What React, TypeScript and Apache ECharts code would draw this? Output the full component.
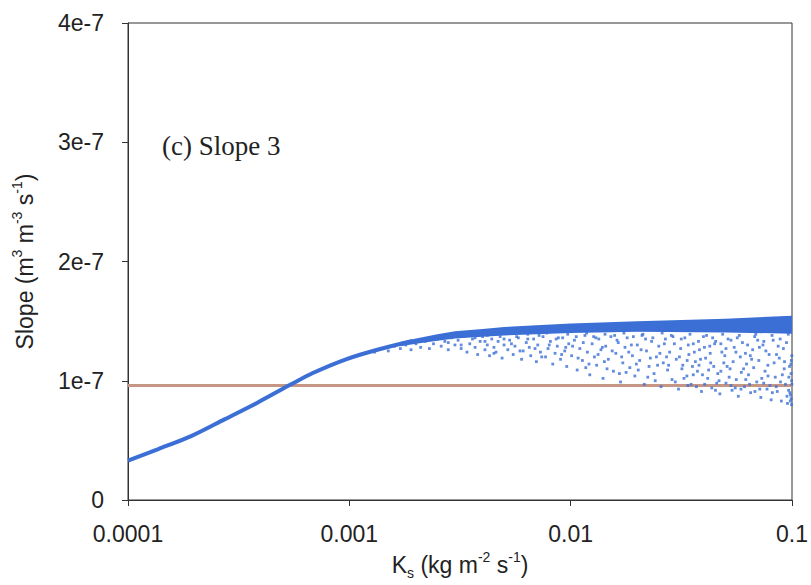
import React, { useEffect, useRef } from "react";
import * as echarts from "echarts";

// Y values are in units of 1e-7 m3 m-3 s-1
const yTickLabels = ["0", "1e-7", "2e-7", "3e-7", "4e-7"];
const xTickLabels = ["0.0001", "0.001", "0.01", "0.1"];

// single-valued curve at low Ks
const curveKs = [0.0001, 0.000137, 0.000194, 0.000274, 0.000386, 0.000546, 0.000684, 0.000966, 0.001365, 0.00193];
const curveSlope = [0.33, 0.427, 0.538, 0.678, 0.818, 0.97, 1.065, 1.18, 1.264, 1.333];

// dense upper band of the scatter
const bandKs = [0.0017, 0.002, 0.0025, 0.003, 0.004, 0.005, 0.007, 0.01, 0.02, 0.05, 0.1];
const bandUpper = [1.325, 1.355, 1.39, 1.415, 1.435, 1.45, 1.465, 1.48, 1.5, 1.52, 1.545];
const bandLower = [1.29, 1.31, 1.335, 1.355, 1.37, 1.38, 1.39, 1.4, 1.41, 1.405, 1.395];

// reference level (horizontal line)
const refLevel = 0.96;

// scattered points below the band
const scatterPoints: [number, number][] = [
  [0.0013, 1.24], [0.0014, 1.27], [0.0015, 1.25], [0.0016, 1.29], [0.0017, 1.27], [0.0018, 1.3],
  [0.0019, 1.26], [0.002, 1.31], [0.0021, 1.28], [0.0022, 1.33], [0.0023, 1.27], [0.0024, 1.31],
  [0.0025, 1.35], [0.0026, 1.29], [0.0027, 1.33], [0.0028, 1.26], [0.0029, 1.36], [0.003, 1.3],
  [0.0031, 1.34], [0.0032, 1.27], [0.0033, 1.37], [0.0034, 1.24], [0.0035, 1.31], [0.0036, 1.35],
  [0.0037, 1.28], [0.0038, 1.22], [0.0039, 1.33], [0.004, 1.37], [0.0041, 1.26], [0.0042, 1.3],
  [0.0043, 1.21], [0.0044, 1.35], [0.0045, 1.28], [0.0046, 1.24], [0.0047, 1.33], [0.0048, 1.37],
  [0.0049, 1.19], [0.005, 1.3], [0.0052, 1.26], [0.0053, 1.34], [0.0055, 1.22], [0.0056, 1.29],
  [0.0058, 1.36], [0.006, 1.18], [0.0061, 1.25], [0.0063, 1.32], [0.0065, 1.28], [0.0066, 1.21],
  [0.0068, 1.35], [0.007, 1.16], [0.0071, 1.3], [0.0073, 1.24], [0.0075, 1.37], [0.0077, 1.2],
  [0.0079, 1.27], [0.0081, 1.33], [0.0083, 1.14], [0.0085, 1.23], [0.0087, 1.29], [0.009, 1.18],
  [0.0092, 1.36], [0.0094, 1.25], [0.0096, 1.12], [0.0098, 1.31],
  [0.0101, 1.21], [0.0104, 1.34], [0.0107, 1.09], [0.011, 1.27], [0.0113, 1.17], [0.0116, 1.38],
  [0.0119, 1.24], [0.0122, 1.05], [0.0125, 1.31], [0.0128, 1.2], [0.0131, 1.13], [0.0134, 1.35],
  [0.0137, 1.26], [0.014, 1.02], [0.0144, 1.29], [0.0148, 1.18], [0.0152, 1.37], [0.0156, 1.08],
  [0.016, 1.23], [0.0164, 1.32], [0.0168, 0.99], [0.0172, 1.15], [0.0176, 1.28], [0.018, 1.36],
  [0.0185, 1.11], [0.019, 1.21], [0.0195, 1.04], [0.02, 1.3], [0.0205, 1.17], [0.021, 1.38],
  [0.0215, 0.97], [0.022, 1.25], [0.0226, 1.12], [0.0232, 1.33], [0.0238, 1.06], [0.0244, 1.2],
  [0.025, 1.29], [0.0256, 0.95], [0.0262, 1.15], [0.0268, 1.35], [0.0274, 1.09], [0.028, 1.24],
  [0.0287, 1.01], [0.0294, 1.31], [0.03, 1.18],
  [0.0102, 1.29], [0.0108, 1.19], [0.0114, 1.32], [0.0121, 1.14], [0.0127, 1.37], [0.0133, 1.22],
  [0.0139, 1.28], [0.0146, 1.1], [0.0154, 1.25], [0.0162, 1.34], [0.017, 1.2], [0.0178, 1.07],
  [0.0188, 1.3], [0.0198, 1.14], [0.0208, 1.26], [0.0218, 1.35], [0.0229, 1.19], [0.0241, 1.0],
  [0.0253, 1.23], [0.0265, 1.31], [0.0277, 1.13], [0.029, 1.37],
  [0.0307, 0.93], [0.0314, 1.27], [0.0321, 1.13], [0.0328, 1.36], [0.0335, 1.04], [0.0342, 1.22],
  [0.035, 0.97], [0.0358, 1.31], [0.0366, 1.16], [0.0374, 1.08], [0.0382, 1.26], [0.039, 0.91],
  [0.0398, 1.37], [0.0407, 1.19], [0.0416, 1.02], [0.0425, 1.29], [0.0434, 0.94], [0.0443, 1.12],
  [0.0452, 1.33], [0.0462, 1.06], [0.0472, 0.89], [0.0482, 1.24], [0.0492, 1.15], [0.0503, 0.98],
  [0.0514, 1.35], [0.0525, 1.1], [0.0536, 0.92], [0.0548, 1.28], [0.056, 1.01], [0.0572, 0.87],
  [0.0584, 1.2], [0.0597, 1.32], [0.061, 0.95], [0.0623, 1.14], [0.0636, 1.05], [0.065, 0.9],
  [0.0664, 1.26], [0.0678, 1.37], [0.0693, 0.99], [0.0708, 1.17], [0.0723, 0.86], [0.0739, 1.3],
  [0.0755, 1.08], [0.0771, 0.93], [0.0788, 1.22], [0.0805, 0.84], [0.0822, 1.34], [0.084, 1.03],
  [0.0858, 0.91], [0.0876, 1.19], [0.0895, 0.83], [0.0914, 1.27], [0.0934, 0.97], [0.0954, 0.81],
  [0.0974, 1.12], [0.0985, 0.88], [0.099, 1.06], [0.0995, 0.8],
  [0.031, 1.2], [0.0325, 1.02], [0.034, 1.3], [0.0355, 1.12], [0.037, 0.95], [0.0386, 1.18],
  [0.0402, 1.28], [0.042, 1.09], [0.0438, 1.36], [0.0457, 0.98], [0.0477, 1.31], [0.0497, 1.21],
  [0.052, 1.03], [0.0542, 1.16], [0.0566, 1.36], [0.059, 1.07], [0.0616, 1.23], [0.0643, 0.97],
  [0.0671, 1.11], [0.07, 1.34], [0.073, 1.02], [0.0762, 1.25], [0.0795, 0.96], [0.083, 1.15],
  [0.0866, 1.29], [0.0904, 1.05], [0.0944, 1.32], [0.0965, 0.92], [0.0998, 1.21], [0.0996, 1.0],
  [0.0992, 0.85], [0.0988, 1.14],
  [0.0036, 1.39], [0.0042, 1.38], [0.0051, 1.4], [0.0057, 1.37], [0.0064, 1.39], [0.0072, 1.38],
  [0.0078, 1.4], [0.0088, 1.36], [0.0097, 1.39], [0.0106, 1.37], [0.0118, 1.4], [0.013, 1.36],
  [0.0143, 1.39], [0.0158, 1.38], [0.0174, 1.4], [0.0192, 1.37], [0.0212, 1.39], [0.0235, 1.36],
  [0.0259, 1.4], [0.0285, 1.38], [0.0316, 1.35], [0.0346, 1.39], [0.0378, 1.33], [0.0411, 1.38],
  [0.0447, 1.31], [0.0486, 1.39], [0.053, 1.34], [0.0578, 1.38], [0.063, 1.3], [0.0686, 1.39],
  [0.0746, 1.33], [0.0812, 1.38], [0.0884, 1.35], [0.0962, 1.39],
  [0.0117, 1.11], [0.0142, 1.16], [0.0166, 1.06], [0.0183, 1.24], [0.0202, 1.09], [0.0223, 1.03],
  [0.0247, 1.13], [0.0271, 1.2], [0.0297, 0.99], [0.0318, 1.1], [0.0338, 0.96], [0.0362, 1.24],
  [0.0394, 1.05], [0.0429, 1.15], [0.0468, 1.0], [0.0509, 1.12], [0.0554, 0.94], [0.0604, 1.1],
  [0.0657, 1.18], [0.0715, 0.93], [0.0778, 1.13], [0.0848, 0.95], [0.0922, 1.1], [0.0978, 0.9],
  [0.0999, 0.97], [0.0993, 1.17], [0.0983, 0.83], [0.0968, 1.03], [0.0949, 0.87], [0.0925, 1.16],
  [0.0887, 0.99], [0.0851, 1.22], [0.0815, 0.9], [0.0779, 1.04], [0.0745, 0.98], [0.0712, 1.28],
  [0.068, 0.91], [0.0648, 1.21], [0.0618, 1.01], [0.0588, 0.93], [0.0558, 1.24], [0.053, 0.96],
  [0.0503, 1.27], [0.0477, 1.08], [0.0451, 0.92], [0.0427, 1.23], [0.0403, 0.97], [0.038, 1.13],
  [0.0358, 1.05], [0.0336, 1.17],
  [0.0024, 1.36], [0.0028, 1.32], [0.0032, 1.3], [0.0037, 1.36], [0.0041, 1.33], [0.0045, 1.23],
  [0.005, 1.35], [0.0054, 1.31], [0.0059, 1.25], [0.0064, 1.35], [0.0069, 1.27], [0.0074, 1.2],
  [0.008, 1.3], [0.0086, 1.35], [0.0091, 1.22], [0.0095, 1.28],
];

const BLUE = "#3b6fd6";
const REF = "#c69583";
const AXIS = "#333333";
const SANS = "'Liberation Sans', Arial, sans-serif";
const SERIF = "'Liberation Serif', 'Times New Roman', serif";

export default function App() {
  const ref = useRef<HTMLDivElement>(null);

  useEffect(() => {
    if (!ref.current) return;
    const chart = echarts.init(ref.current, null, { renderer: "svg" });

    const supStyle = { fontSize: 14, fontFamily: SANS, color: "#222", verticalAlign: "top", lineHeight: 14 };
    const subStyle = { fontSize: 14, fontFamily: SANS, color: "#222", verticalAlign: "bottom", lineHeight: 14 };
    const nStyle = { fontSize: 23, fontFamily: SANS, color: "#222", lineHeight: 30 };

    const option: any = {
      animation: false,
      backgroundColor: "#ffffff",
      grid: {
        left: 128,
        right: 17,
        top: 23,
        bottom: 84,
        show: true,
        borderColor: AXIS,
        borderWidth: 1,
        backgroundColor: "transparent",
      },
      xAxis: {
        type: "log",
        logBase: 10,
        min: 0.0001,
        max: 0.1,
        name: "{n|K}{sub|s}{n| (kg m}{sup|-2}{n| s}{sup|-1}{n|)}",
        nameLocation: "middle",
        nameGap: 50,
        nameTextStyle: { rich: { n: nStyle, sup: supStyle, sub: subStyle } },
        axisLine: { show: true, lineStyle: { color: AXIS, width: 1 } },
        axisTick: { show: true, length: 6, inside: false, lineStyle: { color: AXIS } },
        minorTick: { show: false },
        splitLine: { show: false },
        axisLabel: {
          margin: 22,
          fontSize: 23,
          fontFamily: SANS,
          color: "#222",
          formatter: (v: number) => xTickLabels[Math.round(Math.log10(v)) + 4] ?? String(v),
        },
      },
      yAxis: {
        type: "value",
        min: 0,
        max: 4,
        interval: 1,
        name: "{n|Slope (m}{sup|3}{n| m}{sup|-3}{n| s}{sup|-1}{n|)}",
        nameLocation: "middle",
        nameRotate: 90,
        nameGap: 88,
        nameTextStyle: { rich: { n: nStyle, sup: supStyle } },
        axisLine: { show: true, lineStyle: { color: AXIS, width: 1 } },
        axisTick: { show: true, length: 6, inside: false, lineStyle: { color: AXIS } },
        splitLine: { show: false },
        axisLabel: {
          margin: 24,
          fontSize: 23,
          fontFamily: SANS,
          color: "#222",
          formatter: (v: number) => yTickLabels[Math.round(v)] ?? String(v),
        },
      },
      graphic: [
        {
          type: "text",
          left: 162,
          top: 132,
          style: { text: "(c) Slope 3", fontFamily: SERIF, fontSize: 27, fill: "#222" },
        },
      ],
      series: [
        {
          name: "reference",
          type: "line",
          data: [
            [curveKs[0], refLevel],
            [0.1, refLevel],
          ],
          symbol: "none",
          lineStyle: { color: REF, width: 3 },
          z: 1,
        },
        {
          name: "curve",
          type: "line",
          data: curveKs.map((k, i) => [k, curveSlope[i]]),
          smooth: 0.3,
          symbol: "none",
          lineStyle: { color: BLUE, width: 4 },
          z: 3,
        },
        {
          name: "band",
          type: "custom",
          data: [[bandKs[0], bandUpper[0]]],
          renderItem: (_params: any, api: any) => {
            const top = bandKs.map((k, i) => api.coord([k, bandUpper[i]]));
            const bottom = bandKs.map((k, i) => api.coord([k, bandLower[i]])).reverse();
            return {
              type: "polygon",
              shape: { points: top.concat(bottom) },
              style: { fill: BLUE },
            };
          },
          z: 3,
        },
        {
          name: "scatter",
          type: "scatter",
          data: scatterPoints,
          symbol: "rect",
          symbolSize: 2.8,
          itemStyle: { color: BLUE },
          z: 2,
        },
      ],
    };

    chart.setOption(option);
    return () => chart.dispose();
  }, []);

  return <div ref={ref} style={{ position: "fixed", left: 0, top: 0, width: 811, height: 585 }} />;
}
